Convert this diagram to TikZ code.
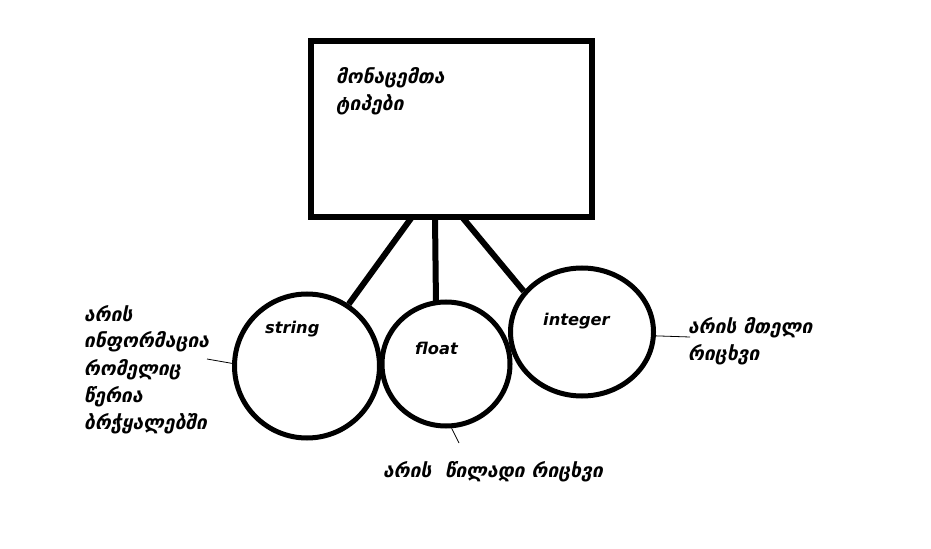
\documentclass[tikz,border=0pt]{standalone}
\usepackage{fontspec}
\setmainfont{DejaVu Sans}
\usetikzlibrary{shapes.geometric}
\begin{document}
\begin{tikzpicture}[x=1bp,y=-1bp,
  geo/.style={font=\bfseries\itshape\fontsize{19.4}{26}\selectfont, inner sep=0pt, anchor=base west},
  eng/.style={font=\bfseries\itshape\fontsize{16.3}{20}\selectfont, inner sep=0pt, anchor=base west},
  bubble/.style={draw, ellipse, line width=5bp, inner sep=0pt},
  thick line/.style={line width=6bp},
  thin line/.style={line width=0.8bp}]
\useasboundingbox (0,0) rectangle (931,549);
\node[draw, line width=6bp, minimum width=281bp, minimum height=176bp, inner sep=0pt] (box) at (451.5,129) {};
\node[geo] (t1) at (336,84) {მონაცემთა};
\node[geo] (t2) at (336,111) {ტიპები};
\node[bubble, minimum width=145bp, minimum height=144bp] (string) at (307,366) {};
\node[bubble, minimum width=128bp, minimum height=124bp] (float) at (446,364) {};
\node[bubble, minimum width=143bp, minimum height=128bp] (integer) at (582,332) {};
\node[eng] (ls) at (265,334) {string};
\node[eng] (lf) at (415,355) {float};
\node[eng] (li) at (543,326) {integer};
\coordinate (b1) at (412,217);
\coordinate (b2) at (435,217);
\coordinate (b3) at (462,217);
\draw[thick line] (b1) -- (string.56);
\draw[thick line] (b2) -- (436,305) coordinate (f1);
\draw[thick line] (b3) -- (integer.145);
\node[geo] (l1) at (84,322) {არის};
\node[geo] (l2) at (84,348) {ინფორმაცია};
\node[geo] (l3) at (84,375) {რომელიც};
\node[geo] (l4) at (84,402) {წერია};
\node[geo] (l5) at (84,429) {ბრჭყალებში};
\node[geo] (bot) at (383,477) {არის\ \ წილადი რიცხვი};
\node[geo] (r1) at (688,334) {არის მთელი};
\node[geo] (r2) at (688,361) {რიცხვი};
\coordinate (lc) at (207,359);
\draw[thin line] (lc) -- (string.178);
\coordinate (bc) at (459,443);
\draw[thin line] (float.-85) -- (bc);
\coordinate (rc) at (690,337);
\draw[thin line] (integer.-3) -- (rc);
\end{tikzpicture}
\end{document}
